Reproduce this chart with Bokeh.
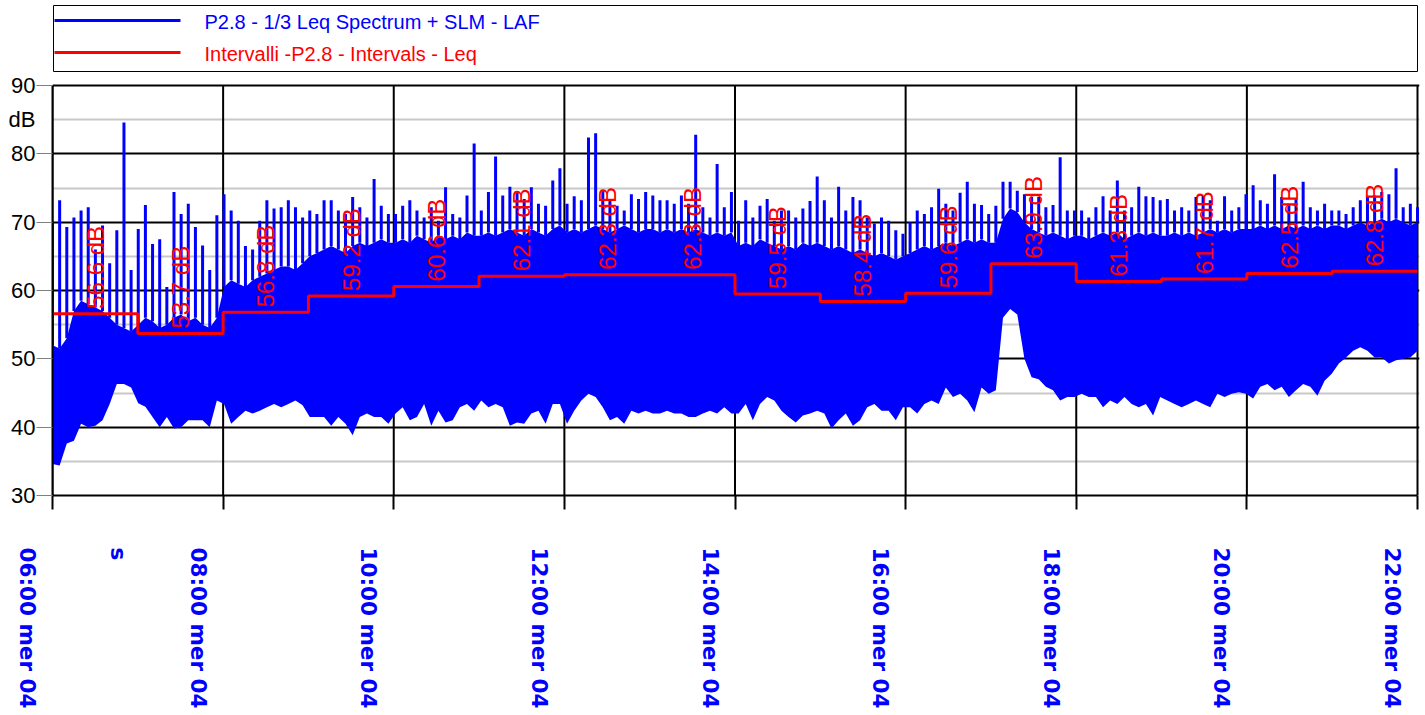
import numpy as np
from bokeh.plotting import figure
from bokeh.models import Range1d, FixedTicker, Grid
from bokeh.core.properties import value
from bokeh.embed import file_html
from bokeh.resources import INLINE

# ---------------- data ----------------
# 5-minute bins from 06:00 to 22:00 (192 bins): spike peak, top of dense core, lowest value
peak_db = [
    70.0, 73.2, 69.3, 70.7, 71.7, 72.2, 66.0, 69.5, 64.0, 68.8, 84.6, 63.0,   # 06
    69.0, 72.5, 66.8, 67.5, 60.5, 74.4, 71.2, 72.7, 69.3, 66.6, 63.0, 71.0,   # 07
    74.1, 71.7, 70.2, 66.5, 66.0, 70.2, 73.2, 72.0, 72.2, 73.2, 72.2, 70.7,   # 08
    71.7, 71.2, 73.2, 73.2, 71.7, 71.2, 73.7, 72.2, 70.7, 76.3, 72.4, 71.2,   # 09
    71.2, 72.4, 73.2, 71.7, 70.7, 72.2, 70.2, 75.1, 71.2, 70.7, 73.9, 81.5,   # 10
    71.7, 74.4, 79.6, 73.9, 75.2, 74.4, 73.4, 75.1, 72.7, 72.4, 76.1, 77.9,   # 11
    72.7, 73.8, 73.2, 82.4, 83.0, 74.6, 73.2, 72.4, 71.7, 74.1, 73.4, 74.4,   # 12
    73.9, 73.2, 73.2, 72.7, 73.9, 72.7, 82.8, 72.2, 70.7, 78.5, 72.2, 74.4,   # 13
    70.2, 73.2, 70.7, 72.4, 73.4, 70.2, 71.7, 71.7, 70.7, 72.0, 73.1, 76.7,   # 14
    73.2, 70.7, 75.2, 71.7, 73.7, 73.2, 70.7, 69.8, 70.7, 70.2, 68.8, 68.3,   # 15
    70.0, 71.7, 71.2, 72.2, 74.9, 72.7, 71.7, 74.3, 75.9, 72.7, 72.5, 71.2,   # 16
    72.4, 75.9, 75.9, 74.6, 74.1, 73.7, 73.7, 72.2, 72.5, 79.5, 71.7, 71.7,   # 17
    71.7, 70.7, 72.2, 73.8, 71.7, 76.1, 71.7, 72.2, 75.2, 73.8, 73.7, 73.2,   # 18
    73.4, 71.7, 72.2, 71.7, 73.7, 73.9, 73.2, 70.2, 73.8, 71.7, 72.2, 74.1,   # 19
    75.4, 73.2, 72.7, 77.0, 73.7, 72.7, 73.4, 75.9, 72.2, 71.7, 72.7, 71.7,   # 20
    71.7, 71.2, 72.2, 73.2, 73.7, 73.9, 74.4, 74.1, 77.9, 72.2, 72.7, 72.2,   # 21
]
core_top_db = [
    52.0, 51.5, 53.0, 57.0, 58.5, 58.0, 57.5, 57.0, 56.0, 55.0, 54.5, 54.0,
    55.0, 56.0, 55.5, 54.5, 55.0, 56.0, 56.5, 55.5, 56.0, 55.0, 54.5, 56.0,
    60.5, 61.5, 61.0, 60.5, 61.5, 62.0, 62.5, 63.0, 63.5, 63.5, 63.0, 64.0,
    65.0, 65.5, 66.0, 66.5, 66.0, 65.5, 66.5, 67.0, 66.5, 67.0, 67.5, 67.0,
    67.0, 67.5, 67.0, 68.0, 67.5, 67.0, 68.0, 67.5, 68.0, 67.5, 68.5, 68.0,
    68.0, 68.5, 68.0, 68.5, 69.0, 68.5, 68.0, 69.0, 68.5, 68.0, 69.0, 69.5,
    68.5, 69.0, 68.5, 69.0, 69.5, 69.0, 68.5, 69.0, 69.5, 69.0, 68.5, 69.0,
    69.0, 68.5, 69.0, 68.5, 69.0, 68.5, 69.0, 68.5, 68.0, 68.5, 68.0, 68.5,
    66.5, 67.0, 66.5, 67.5, 67.0, 66.5, 66.0, 66.5, 66.0, 67.0, 66.5, 67.0,
    66.5, 66.0, 66.5, 66.0, 65.5, 66.0, 65.5, 65.0, 65.5, 65.0, 64.5, 65.0,
    65.5, 66.0, 66.5, 66.0, 66.5, 67.0, 66.5, 67.0, 67.5, 67.0, 67.5, 67.0,
    67.0, 70.5, 72.0, 71.5, 70.0, 69.0, 68.5, 68.0, 68.5, 68.0, 67.5, 68.0,
    68.0, 67.5, 68.0, 68.5, 68.0, 68.5, 67.5, 68.0, 68.5, 68.0, 68.5, 68.0,
    68.0, 68.5, 68.0, 68.5, 68.0, 68.5, 69.0, 68.5, 69.0, 68.5, 69.0, 69.0,
    69.0, 69.5, 69.0, 69.5, 69.0, 69.5, 69.0, 69.5, 69.0, 69.5, 69.0, 69.5,
    69.5, 69.0, 69.5, 70.0, 69.5, 70.0, 70.5, 70.0, 70.5, 70.0, 69.5, 70.0,
]
low_db = [
    34.6, 34.4, 37.6, 38.0, 40.5, 40.0, 40.2, 41.0, 43.4, 46.3, 46.3, 45.8,
    43.5, 43.0, 41.5, 40.0, 41.5, 39.8, 40.0, 41.0, 41.0, 41.0, 40.0, 43.9,
    43.4, 40.5, 41.5, 42.4, 42.0, 42.4, 42.9, 43.4, 42.9, 43.4, 43.9, 43.2,
    41.5, 41.5, 41.5, 40.2, 41.5, 40.5, 38.8, 41.5, 42.0, 41.5, 41.5, 40.5,
    42.0, 42.9, 41.0, 41.5, 43.4, 40.2, 42.4, 40.7, 41.0, 42.9, 43.4, 42.4,
    43.9, 42.9, 43.4, 42.9, 40.2, 40.7, 40.5, 42.0, 42.4, 40.5, 43.4, 43.4,
    40.5, 42.4, 43.9, 44.9, 44.4, 42.9, 41.0, 41.5, 40.5, 42.4, 42.0, 42.4,
    42.0, 42.0, 42.4, 42.0, 42.0, 41.5, 41.5, 42.0, 42.4, 42.0, 42.9, 42.0,
    42.0, 43.4, 41.0, 43.4, 44.4, 43.9, 42.4, 41.5, 40.7, 41.7, 42.0, 42.4,
    42.0, 39.8, 41.0, 42.0, 40.2, 41.0, 42.9, 43.4, 42.4, 42.4, 41.0, 42.9,
    42.9, 42.0, 43.4, 43.9, 43.4, 45.8, 44.4, 44.9, 43.9, 42.2, 45.8, 44.9,
    45.4, 56.0, 57.3, 56.5, 50.0, 47.3, 47.0, 45.9, 45.4, 43.9, 44.4, 44.4,
    44.9, 44.4, 44.4, 42.9, 43.9, 43.4, 44.4, 43.4, 42.9, 43.4, 41.7, 44.4,
    43.9, 43.4, 42.9, 43.4, 43.9, 43.4, 42.9, 44.9, 44.4, 44.9, 45.1, 44.9,
    44.2, 45.9, 46.3, 45.4, 45.9, 44.4, 45.4, 46.3, 45.9, 44.6, 46.8, 47.8,
    49.3, 50.2, 51.2, 51.7, 51.2, 50.2, 50.2, 49.3, 49.8, 50.0, 50.2, 51.2,
]

# hourly interval Leq
interval_start_h = [6, 7, 8, 9, 10, 11, 12, 13, 14, 15, 16, 17, 18, 19, 20, 21]
interval_leq_db = [56.6, 53.7, 56.8, 59.2, 60.6, 62.1, 62.3, 62.3,
                   59.5, 58.4, 59.6, 63.9, 61.3, 61.7, 62.5, 62.8]

x_ticks_h = [6, 8, 10, 12, 14, 16, 18, 20, 22]
x_tick_labels = ["06:00 mer 04", "08:00 mer 04", "10:00 mer 04", "12:00 mer 04",
                 "14:00 mer 04", "16:00 mer 04", "18:00 mer 04", "20:00 mer 04",
                 "22:00 mer 04"]
x_extra_tick_h = 6.77
x_extra_label = "s"
y_major = [30, 40, 50, 60, 70, 80, 90]
y_minor = [35, 45, 55, 65, 75, 85]
y_unit_tick = 85
y_unit_label = "dB"

series_name = "P2.8 - 1/3 Leq Spectrum + SLM - LAF"
interval_name = "Intervalli -P2.8 - Intervals - Leq"

BLUE = "#0000ff"
RED = "#ff0000"

# ---------------- layout (page pixels) ----------------
W, H = 1425, 715
PLOT_L, PLOT_R, PLOT_T, PLOT_B = 52, 1417, 85, 495   # 06:00..22:00, 90..30 dB
FRAME_T, FRAME_R = 4, 1419
PX_H = (PLOT_R - PLOT_L) / 16.0
PX_DB = (PLOT_B - PLOT_T) / 60.0


def hx(px):
    return 6 + (px - PLOT_L) / PX_H


def dby(py):
    return 30 + (PLOT_B - py) / PX_DB


p = figure(width=W, height=H, output_backend="svg", toolbar_location=None,
           x_range=Range1d(6, hx(FRAME_R)), y_range=Range1d(30, dby(FRAME_T)),
           min_border_left=PLOT_L, min_border_right=W - FRAME_R,
           min_border_top=FRAME_T, min_border_bottom=H - PLOT_B)
p.background_fill_color = "white"
p.border_fill_color = "white"
p.outline_line_color = None

# x axis: minor ticks carry the tick marks, majors carry labels.
# Two blank leading lines push the printed line to the left of its tick.
p.xaxis.ticker = FixedTicker(ticks=x_ticks_h + [x_extra_tick_h], minor_ticks=x_ticks_h)
overrides = {t: " \n \n" + l for t, l in zip(x_ticks_h, x_tick_labels)}
overrides[x_extra_tick_h] = x_extra_label
p.xaxis.major_label_overrides = overrides
p.xaxis.major_label_orientation = "vertical"
p.xaxis.major_label_text_font = "DejaVu Sans"
p.xaxis.major_label_text_font_style = "bold"
p.xaxis.major_label_text_font_size = "21.5px"
p.xaxis.major_label_text_line_height = 1.0
p.xaxis.major_label_text_color = BLUE
p.xaxis.major_label_standoff = 38
p.xaxis.major_tick_line_color = None
p.xaxis.major_tick_out = 14
p.xaxis.major_tick_in = 0
p.xaxis.minor_tick_out = 14
p.xaxis.minor_tick_in = 0
p.xaxis.minor_tick_line_color = "black"
p.xaxis.minor_tick_line_width = 2
p.xaxis.axis_line_color = "black"
p.xaxis.axis_line_width = 2
p.xaxis.bounds = (6, 22)

# y axis
p.yaxis.ticker = FixedTicker(ticks=y_major + [y_unit_tick], minor_ticks=y_major)
p.yaxis.major_label_overrides = {y_unit_tick: y_unit_label}
p.yaxis.major_label_text_font = "Liberation Sans"
p.yaxis.major_label_text_font_size = "22px"
p.yaxis.major_label_text_color = "black"
p.yaxis.major_label_standoff = 1
p.yaxis.major_tick_line_color = None
p.yaxis.major_tick_out = 16
p.yaxis.major_tick_in = 0
p.yaxis.minor_tick_out = 16
p.yaxis.minor_tick_in = 0
p.yaxis.minor_tick_line_color = "#7f7f7f"
p.yaxis.minor_tick_line_width = 1
p.yaxis.axis_line_color = "black"
p.yaxis.axis_line_width = 2
p.yaxis.bounds = (30, 90)

# horizontal grids
p.xgrid.visible = False
p.ygrid.ticker = FixedTicker(ticks=y_major)
p.ygrid.grid_line_color = "black"
p.ygrid.grid_line_width = 2
p.add_layout(Grid(dimension=1, ticker=FixedTicker(ticks=y_minor),
                  grid_line_color="#c8c8c8", grid_line_width=2))

# vertical grid lines limited to the 30..90 dB box
p.segment(x0=x_ticks_h, y0=[30] * len(x_ticks_h), x1=x_ticks_h, y1=[90] * len(x_ticks_h),
          line_color="black", line_width=2)

# ---------------- blue series ----------------
t = np.linspace(6, 22, len(peak_db))
p.varea(x=t, y1=low_db, y2=core_top_db, fill_color=BLUE, fill_alpha=1)
p.segment(x0=t, y0=core_top_db, x1=t, y1=peak_db, line_color=BLUE, line_width=3)

# ---------------- red interval steps ----------------
step_x = interval_start_h + [22]
step_y = interval_leq_db + [interval_leq_db[-1]]
p.step(x=step_x, y=step_y, mode="after", line_color=RED, line_width=3)

mid = [h + 0.5 for h in interval_start_h]
p.text(x=mid, y=interval_leq_db, text=[f"{v:.1f} dB" for v in interval_leq_db],
       angle=np.pi / 2, text_align="left", text_baseline="middle", y_offset=-5,
       text_color=RED, text_font=value("Liberation Sans"), text_font_size="24px")

# ---------------- legend box (drawn inside the frame's top band) ----------------
p.quad(left=hx(PLOT_L + 1), right=hx(PLOT_R), top=dby(5), bottom=dby(71),
       fill_color="white", line_color="black", line_width=1)
p.line(x=[hx(54), hx(180)], y=[dby(20), dby(20)], line_color=BLUE, line_width=3)
p.line(x=[hx(54), hx(180)], y=[dby(52), dby(52)], line_color=RED, line_width=3)
p.text(x=[hx(204)], y=[dby(21)], text=[series_name], text_align="left",
       text_baseline="middle", text_color=BLUE,
       text_font=value("Liberation Sans"), text_font_size="20px")
p.text(x=[hx(204)], y=[dby(53)], text=[interval_name], text_align="left",
       text_baseline="middle", text_color=RED,
       text_font=value("Liberation Sans"), text_font_size="20px")

open("out.html", "w").write(file_html(p, INLINE))
